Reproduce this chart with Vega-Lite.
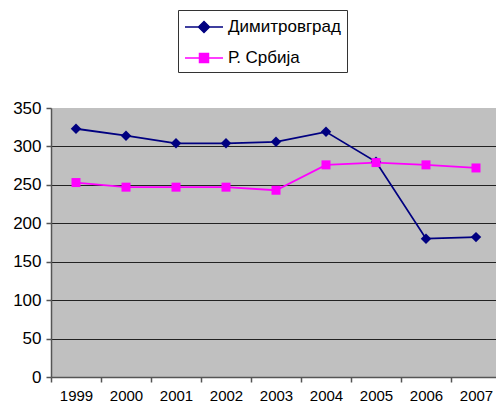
{
  "$schema": "https://vega.github.io/schema/vega-lite/v6.json",
  "width": 445,
  "height": 269,
  "autosize": "none",
  "padding": {"left": 51, "top": 108, "right": 0, "bottom": 38},
  "background": "white",
  "config": {
    "font": "Liberation Sans",
    "view": {"fill": "#C0C0C0", "stroke": null}
  },
  "data": {
    "values": [
      {"year": "1999", "series": "Димитровград", "value": 323},
      {"year": "2000", "series": "Димитровград", "value": 314},
      {"year": "2001", "series": "Димитровград", "value": 304},
      {"year": "2002", "series": "Димитровград", "value": 304},
      {"year": "2003", "series": "Димитровград", "value": 306},
      {"year": "2004", "series": "Димитровград", "value": 319},
      {"year": "2005", "series": "Димитровград", "value": 280},
      {"year": "2006", "series": "Димитровград", "value": 180},
      {"year": "2007", "series": "Димитровград", "value": 182},
      {"year": "1999", "series": "Р. Србија", "value": 253},
      {"year": "2000", "series": "Р. Србија", "value": 247},
      {"year": "2001", "series": "Р. Србија", "value": 247},
      {"year": "2002", "series": "Р. Србија", "value": 247},
      {"year": "2003", "series": "Р. Србија", "value": 243},
      {"year": "2004", "series": "Р. Србија", "value": 276},
      {"year": "2005", "series": "Р. Србија", "value": 279},
      {"year": "2006", "series": "Р. Србија", "value": 276},
      {"year": "2007", "series": "Р. Србија", "value": 272}
    ]
  },
  "encoding": {
    "x": {
      "field": "year", "type": "ordinal",
      "scale": {"type": "band", "paddingInner": 0, "paddingOuter": 0, "range": [0, 450]},
      "axis": {
        "title": null, "labelAngle": 0, "tickBand": "extent",
        "domainColor": "#555555", "domainWidth": 1.5, "tickColor": "#555555", "tickWidth": 1.5, "tickSize": 5,
        "labelFontSize": 15, "labelColor": "black", "labelPadding": 6, "grid": false
      }
    },
    "y": {
      "field": "value", "type": "quantitative",
      "scale": {"domain": [0, 350], "nice": false},
      "axis": {
        "title": null, "values": [0, 50, 100, 150, 200, 250, 300, 350],
        "domainColor": "#555555", "domainWidth": 1.5, "tickColor": "#555555", "tickWidth": 1.5, "tickSize": 5,
        "labelFontSize": 17, "labelColor": "black", "labelPadding": 5,
        "grid": true, "gridWidth": 1,
        "gridColor": {"condition": {"test": "datum.value === 350 || datum.value === 0", "value": "transparent"}, "value": "#222222"}
      }
    }
  },
  "layer": [
    {
      "mark": {"type": "line", "strokeWidth": 1.8},
      "encoding": {
        "color": {
          "field": "series", "type": "nominal",
          "scale": {"domain": ["Димитровград", "Р. Србија"], "range": ["#000080", "#FF00FF"]},
          "legend": {
            "title": null, "orient": "none", "legendX": 127, "legendY": -98,
            "strokeColor": "#333333", "fillColor": "white", "padding": 6,
            "labelFontSize": 17, "labelColor": "black", "labelOffset": 22,
            "symbolSize": 400, "rowPadding": 11,
            "encode": {
              "symbols": {
                "update": {
                  "shape": {"signal": "datum.value === 'Димитровград' ? 'M-1,0H2.8M0.9,-0.55L1.45,0L0.9,0.55L0.35,0Z' : 'M-1,0H2.8M0.45,-0.45H1.35V0.45H0.45Z'"},
                  "fill": {"signal": "datum.value === 'Димитровград' ? '#000080' : '#FF00FF'"},
                  "stroke": {"signal": "datum.value === 'Димитровград' ? '#000080' : '#FF00FF'"},
                  "strokeWidth": {"value": 1.5},
                  "opacity": {"value": 1},
                  "fillOpacity": {"value": 1}
                }
              }
            }
          }
        }
      }
    },
    {
      "transform": [{"filter": "datum.series === 'Димитровград'"}],
      "mark": {"type": "point", "shape": "diamond", "filled": true, "opacity": 1, "color": "#000080", "size": 110}
    },
    {
      "transform": [{"filter": "datum.series === 'Р. Србија'"}],
      "mark": {"type": "point", "shape": "square", "filled": true, "opacity": 1, "color": "#FF00FF", "size": 81}
    }
  ]
}
